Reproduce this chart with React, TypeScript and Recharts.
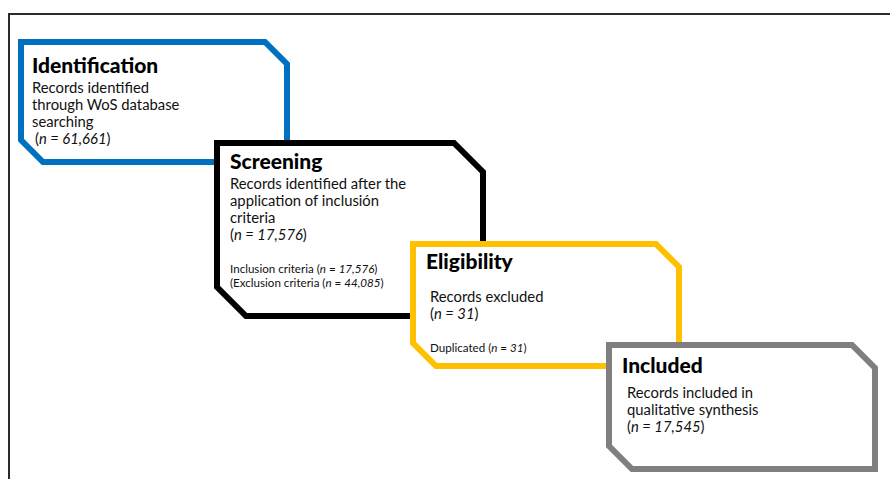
import React from "react"
import { ScatterChart, Scatter, XAxis, YAxis } from "recharts"

// PRISMA-style flow: one box per stage
const stageTitles = ["Identification", "Screening", "Eligibility", "Included"]
const stageDescriptions = [
  ["Records identified", "through WoS database", "searching"],
  ["Records identified after the", "application of inclusión", "criteria"],
  ["Records excluded"],
  ["Records included in", "qualitative synthesis"],
]
const stageCounts = [61661, 17576, 31, 17545]
const noteLabels = [[], ["Inclusion criteria", "(Exclusion criteria"], ["Duplicated"], []]
const noteCounts = [[], [17576, 44085], [31], []]

const stages = stageTitles.map((title, i) => ({
  step: i,
  title,
  lines: stageDescriptions[i],
  count: stageCounts[i],
  notes: noteLabels[i].map((label, j) => ({ label, n: noteCounts[i][j] })),
}))

const W = 890
const H = 479
const BOX_W = 272
const STROKE = 6
const LINE_H = 17
const NOTE_H = 14
const FONT = "Lato, 'Open Sans', sans-serif"

// look of each box (colour, size, text padding)
const boxStyles = [
  { color: "#0070C0", height: 126, cut: 22, titleX: 14, titleY: 34, textX: 14, textY: 54, countX: 17, noteY: 0 },
  { color: "#000000", height: 179, cut: 29, titleX: 16, titleY: 29, textX: 16, textY: 49, countX: 16, noteY: 133 },
  { color: "#FFC000", height: 128, cut: 23, titleX: 16, titleY: 28, textX: 20, textY: 61, countX: 20, noteY: 111 },
  { color: "#7F7F7F", height: 130, cut: 23, titleX: 16, titleY: 31, textX: 21, textY: 56, countX: 21, noteY: 0 },
]

const fmt = (n: number) => n.toLocaleString("en-US")

const StageBox = (props: any) => {
  const { cx, cy, payload } = props
  if (cx == null || cy == null || !payload) return null
  const s = boxStyles[payload.step]
  const x0 = cx + STROKE / 2
  const y0 = cy + STROKE / 2
  const w = BOX_W - STROKE
  const h = s.height - STROKE
  const c = s.cut
  const d = `M${x0},${y0} L${x0 + w - c},${y0} L${x0 + w},${y0 + c} L${x0 + w},${y0 + h} L${x0 + c},${y0 + h} L${x0},${y0 + h - c} Z`
  const countY = cy + s.textY + payload.lines.length * LINE_H
  return (
    <g>
      <path d={d} fill="#fff" stroke={s.color} strokeWidth={STROKE} strokeLinejoin="miter" />
      <text x={cx + s.titleX} y={cy + s.titleY} fontFamily={FONT} fontSize={21} fontWeight={900} fill="#000">
        {payload.title}
      </text>
      {payload.lines.map((line: string, i: number) => (
        <text key={i} x={cx + s.textX} y={cy + s.textY + i * LINE_H} fontFamily={FONT} fontSize={14.8} fill="#111">
          {line}
        </text>
      ))}
      <text x={cx + s.countX} y={countY} fontFamily={FONT} fontSize={14.8} fill="#111">
        (<tspan fontStyle="italic">n = {fmt(payload.count)}</tspan>)
      </text>
      {payload.notes.map((note: any, i: number) => (
        <text key={i} x={cx + s.textX} y={cy + s.noteY + i * NOTE_H} fontFamily={FONT} fontSize={11.6} fill="#111">
          {note.label} (<tspan fontStyle="italic">n</tspan> = <tspan fontStyle="italic">{fmt(note.n)}</tspan>)
        </text>
      ))}
    </g>
  )
}

export default function App() {
  return (
    <div style={{ position: "absolute", left: 0, top: 0, width: W, height: H, background: "#fff" }}>
      <div
        style={{
          position: "absolute",
          left: 8,
          top: 13,
          width: W - 8,
          height: H - 13,
          borderTop: "2px solid #2a2a2a",
          borderLeft: "2px solid #2a2a2a",
          boxSizing: "border-box",
        }}
      />
      <div style={{ position: "absolute", left: 0, top: 0 }}>
        <ScatterChart width={W} height={H} margin={{ top: 39, right: 284, bottom: 137, left: 18 }}>
          <XAxis type="number" dataKey="step" domain={[0, 3]} hide />
          <YAxis type="number" dataKey="step" domain={[0, 3]} reversed hide />
          <Scatter data={stages} isAnimationActive={false} shape={(p: any) => <StageBox {...p} />} />
        </ScatterChart>
      </div>
    </div>
  )
}
